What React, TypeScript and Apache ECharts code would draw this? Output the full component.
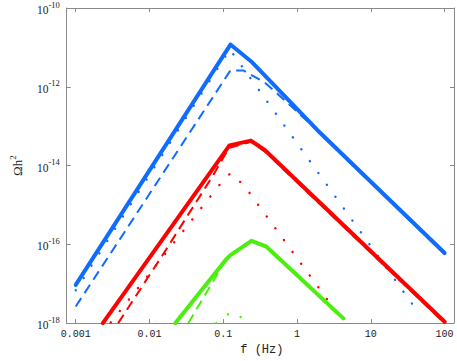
import React, { useEffect, useRef } from "react";
import * as echarts from "echarts";

// ---- tick values / labels ----
const X_TICKS = [0.001, 0.01, 0.1, 1, 10, 100];
const X_TICK_LABELS = ["0.001", "0.01", "0.1", "1", "10", "100"];
const Y_TICKS = [1e-18, 1e-16, 1e-14, 1e-12, 1e-10];
const Y_TICK_EXPONENTS = ["-18", "-16", "-14", "-12", "-10"];

// ---- series (frequency in Hz, Omega h^2) ----
const blueSolidF = [0.001, 0.125, 0.239, 1.89, 100];
const blueSolidY = [9.3e-18, 1.18e-11, 4.4e-12, 7.9e-14, 6.0e-17];
const blueDottedF = [0.001, 0.1225, 42.1];
const blueDottedY = [6.8e-18, 8.9e-12, 2.1e-18];
const blueDashedF = [0.001, 0.125, 0.187, 0.361, 0.569, 1.34, 100];
const blueDashedY = [2.64e-18, 2.6e-12, 2.6e-12, 1.3e-12, 6.1e-13, 1.41e-13, 5.6e-17];

const redSolidF = [0.00233, 0.1213, 0.2366, 0.368, 100];
const redSolidY = [1.0e-18, 3.25e-14, 4.3e-14, 2.45e-14, 1.08e-18];
const redDashedF = [0.00376, 0.015, 0.0731, 0.1189, 0.2366, 0.368, 100];
const redDashedY = [1.0e-18, 5.3e-17, 5.7e-15, 2.8e-14, 4.0e-14, 2.26e-14, 1.0e-18];
const redDottedF = [0.00298, 0.0267, 0.1042, 0.1262, 0.1914, 2.56];
const redDottedY = [1.04e-18, 1.85e-16, 4.74e-15, 6.4e-15, 3.13e-15, 4.0e-18];

const greenSolidF = [0.02244, 0.1076, 0.125, 0.241, 0.379, 4.25];
const greenSolidY = [1.0e-18, 4.0e-17, 5.3e-17, 1.23e-16, 8.9e-17, 1.32e-18];
const greenDashedF = [0.0336, 0.1021, 0.125, 0.241, 0.379, 4.25];
const greenDashedY = [1.0e-18, 3.3e-17, 5.1e-17, 1.18e-16, 8.45e-17, 1.25e-18];
const greenDottedF = [0.0802, 0.126, 0.178, 0.218];
const greenDottedY = [1.0e-18, 1.9e-18, 1.38e-18, 1.0e-18];

const BLUE = "#0F6CFF";
const RED = "#FF0000";
const GREEN = "#4CEE10";

const zip = (xs: number[], ys: number[]) => xs.map((x, i) => [x, ys[i]]);

const matchTick = (ticks: number[], v: number) =>
  ticks.findIndex((t) => Math.abs(Math.log10(t) - Math.log10(v)) < 1e-6);

const AXIS_GRAY = "#8a8a8a";
const TEXT_COLOR = "#222";

function line(name: string, xs: number[], ys: number[], color: string, kind: "solid" | "dashed" | "dotted") {
  const lineStyle: any = { color, width: 4, cap: "round", join: "round" };
  if (kind === "dashed") {
    lineStyle.width = 2;
    lineStyle.type = [10, 6];
    lineStyle.cap = "butt";
  } else if (kind === "dotted") {
    lineStyle.width = 2.4;
    lineStyle.type = [0.1, 14.5];
    lineStyle.cap = "round";
  }
  return {
    name,
    type: "line",
    data: zip(xs, ys),
    showSymbol: false,
    symbol: "none",
    lineStyle,
    xAxisIndex: 0,
    yAxisIndex: 0,
    z: kind === "solid" ? 3 : 2,
  };
}

export default function App() {
  const ref = useRef<HTMLDivElement>(null);
  useEffect(() => {
    if (!ref.current) return;
    const chart = echarts.init(ref.current, undefined, { renderer: "svg" });
    const xBase = {
      type: "log",
      min: 0.000755,
      max: 134,
      splitLine: { show: false },
      axisLine: { show: true, lineStyle: { color: AXIS_GRAY, width: 1 } },
      axisTick: { show: true, inside: true, length: 4, customValues: X_TICKS, lineStyle: { color: AXIS_GRAY } },
    };
    const yBase = {
      type: "log",
      min: 1e-18,
      max: 1e-10,
      splitLine: { show: false },
      axisLine: { show: true, lineStyle: { color: AXIS_GRAY, width: 1 } },
      axisTick: { show: true, inside: true, length: 4, customValues: Y_TICKS, lineStyle: { color: AXIS_GRAY } },
    };
    chart.setOption({
      animation: false,
      backgroundColor: "#fff",
      grid: { left: 53, right: 3, top: 6, bottom: 27 },
      xAxis: [
        {
          ...xBase,
          position: "bottom",
          name: "f (Hz)",
          nameLocation: "middle",
          nameGap: 17,
          nameTextStyle: {
            fontFamily: "Liberation Mono",
            fontSize: 12,
            color: TEXT_COLOR,
            padding: [0, 0, 0, 3],
          },
          axisLabel: {
            show: true,
            margin: 6,
            customValues: X_TICKS,
            fontFamily: "Liberation Mono",
            fontSize: 10,
            color: TEXT_COLOR,
            formatter: (v: number) => {
              const i = matchTick(X_TICKS, v);
              return i >= 0 ? X_TICK_LABELS[i] : "";
            },
          },
        },
        { ...xBase, position: "top", axisLabel: { show: false } },
      ],
      yAxis: [
        {
          ...yBase,
          position: "left",
          name: "Ωh{s|2}",
          nameLocation: "middle",
          nameRotate: 90,
          nameGap: 37,
          nameTextStyle: {
            fontFamily: "Liberation Serif",
            fontSize: 13,
            lineHeight: 18,
            color: TEXT_COLOR,
            rich: {
              s: { fontFamily: "Liberation Serif", fontSize: 9, lineHeight: 9, verticalAlign: "top", color: TEXT_COLOR },
            },
          },
          axisLabel: {
            show: true,
            margin: 7,
            customValues: Y_TICKS,
            color: TEXT_COLOR,
            formatter: (v: number) => {
              const i = matchTick(Y_TICKS, v);
              return i >= 0 ? `{b|10}{s|${Y_TICK_EXPONENTS[i]}}` : "";
            },
            rich: {
              b: { fontFamily: "Liberation Serif", fontSize: 11.5, lineHeight: 16, verticalAlign: "bottom", color: TEXT_COLOR },
              s: { fontFamily: "Liberation Serif", fontSize: 8.5, lineHeight: 8, verticalAlign: "top", color: TEXT_COLOR },
            },
          },
        },
        { ...yBase, position: "right", axisLabel: { show: false } },
      ],
      series: [
        line("green dotted", greenDottedF, greenDottedY, GREEN, "dotted"),
        line("green dashed", greenDashedF, greenDashedY, GREEN, "dashed"),
        line("green solid", greenSolidF, greenSolidY, GREEN, "solid"),
        line("red dotted", redDottedF, redDottedY, RED, "dotted"),
        line("red dashed", redDashedF, redDashedY, RED, "dashed"),
        line("red solid", redSolidF, redSolidY, RED, "solid"),
        line("blue dotted", blueDottedF, blueDottedY, BLUE, "dotted"),
        line("blue dashed", blueDashedF, blueDashedY, BLUE, "dashed"),
        line("blue solid", blueSolidF, blueSolidY, BLUE, "solid"),
      ],
    });
    return () => chart.dispose();
  }, []);
  return (
    <div
      ref={ref}
      style={{ position: "fixed", left: 0, top: 0, width: 457, height: 361, background: "#fff" }}
    />
  );
}
